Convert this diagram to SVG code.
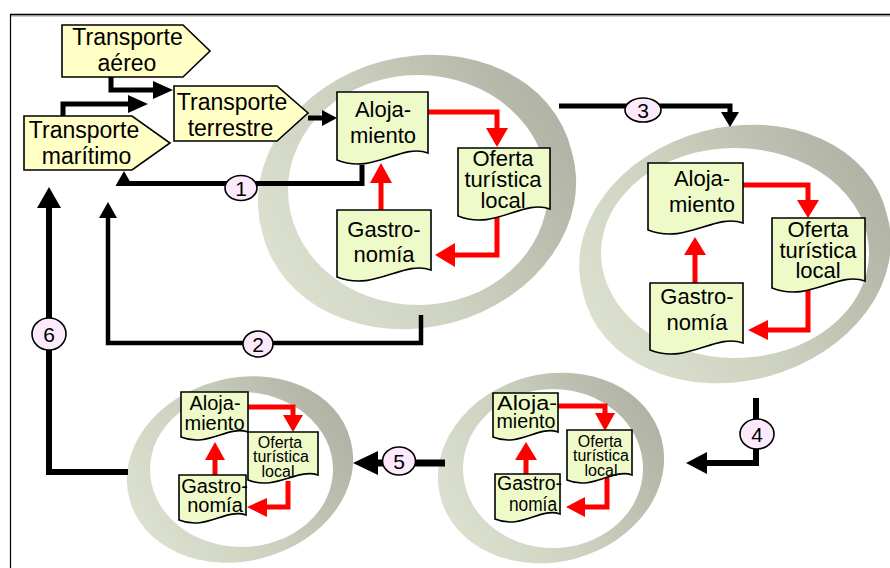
<svg xmlns="http://www.w3.org/2000/svg" width="890" height="568" viewBox="0 0 890 568">
<defs>
<linearGradient id="ringGrad" x1="0" y1="0.75" x2="1" y2="0.25">
<stop offset="0" stop-color="#DDE1D0"/>
<stop offset="0.45" stop-color="#CDD1BF"/>
<stop offset="1" stop-color="#AEB1A3"/>
</linearGradient>
<style>
.ring{fill:url(#ringGrad);fill-rule:evenodd;stroke:none}
.trans{fill:#FFFFC6;stroke:#000;stroke-width:1.6}
.doc{fill:#EEFBC9;stroke:#000;stroke-width:1.6}
.t{font-family:"Liberation Sans",Arial,sans-serif;fill:#000;text-anchor:middle}
.big{font-size:23px}
.mid{font-size:22px}
.sm{font-size:20px}
.xs{font-size:16px}
.bl{fill:none;stroke:#000;stroke-width:5;stroke-linejoin:miter}
.blh{fill:#000;stroke:none}
.rd{fill:none;stroke:#FF0000;stroke-width:5;stroke-linejoin:miter}
.rdh{fill:#FF0000;stroke:none}
.lab{fill:#FCE9FC;stroke:#000;stroke-width:1.6}
.num{font-family:"Liberation Sans",Arial,sans-serif;font-size:21px;fill:#000;text-anchor:middle}
</style>
</defs>
<rect x="0" y="0" width="890" height="568" fill="#FFFFFF"/>
<g id="frame">
<line x1="10" y1="16" x2="890" y2="16" stroke="#9A9A9A" stroke-width="1"/>
<line x1="10" y1="14.5" x2="890" y2="14.5" stroke="#000" stroke-width="1.5"/>
<line x1="10.5" y1="14" x2="10.5" y2="568" stroke="#000" stroke-width="1.2"/>
</g>
<g id="rings">
<path id="ring1" class="ring" d="M571.5,150.6 A160,132 -15 1 1 262.5,233.4 A160,132 -15 1 1 571.5,150.6 Z M548,190 A130,115 0 1 1 288,190 A130,115 0 1 1 548,190 Z"/>
<path id="ring2" class="ring" d="M886.6,213.4 A157,123.5 -15 1 1 583.4,294.6 A157,123.5 -15 1 1 886.6,213.4 Z M869,253 A134,105 0 1 1 601,253 A134,105 0 1 1 869,253 Z"/>
<path id="ring3" class="ring" d="M661.4,438.4 A114.3,93.5 -15 1 1 440.6,497.6 A114.3,93.5 -15 1 1 661.4,438.4 Z M643,468.5 A90,79.5 0 1 1 463,468.5 A90,79.5 0 1 1 643,468.5 Z"/>
<path id="ring4" class="ring" d="M350.5,439.9 A114.4,90.7 -15 1 1 129.5,499.1 A114.4,90.7 -15 1 1 350.5,439.9 Z M333,469.5 A91.5,77.5 0 1 1 150,469.5 A91.5,77.5 0 1 1 333,469.5 Z"/>
</g>
<g id="connectors">
<path class="bl" d="M111,77 V90 H154"/>
<polygon class="blh" points="153,81 173,90 153,99"/>
<path class="bl" d="M63,116 V104 H130"/>
<polygon class="blh" points="128,95 148,104 128,113"/>
<path class="bl" d="M308,118 H323"/>
<polygon class="blh" points="322,110 337,118 322,126"/>
<path class="bl" d="M362,165 V183.5 H124"/>
<polygon class="blh" points="115.5,186 132.5,186 124,171"/>
<path class="bl" style="stroke-width:4.5" d="M421,315 V343 H108 V217"/>
<polygon class="blh" points="99,218 117,218 108,202"/>
<path class="bl" d="M559,106 H730 V113"/>
<polygon class="blh" points="721,112 739,112 730,127"/>
<path class="bl" style="stroke-width:6" d="M756,398 V463 H707"/>
<polygon class="blh" points="707,452 707,474 686,463"/>
<path class="bl" style="stroke-width:7" d="M445,463 H377"/>
<polygon class="blh" points="378,451 378,475 353,463"/>
<path class="bl" style="stroke-width:6" d="M128,472 H49 V207"/>
<polygon class="blh" points="37,208 61,208 49,187"/>
<path class="rd" d="M428,112 H497 V128"/>
<polygon class="rdh" points="486,128 508,128 497,147"/>
<path class="rd" d="M497,215 V255 H455"/>
<polygon class="rdh" points="455,243 455,267 435,255"/>
<path class="rd" d="M381,212 V183"/>
<polygon class="rdh" points="370,183 392,183 381,163"/>
<path class="rd" d="M743,185 H808 V200"/>
<polygon class="rdh" points="797,200 819,200 808,218"/>
<path class="rd" d="M808,285 V330 H768"/>
<polygon class="rdh" points="768,320 768,340 748,330"/>
<path class="rd" d="M695,285 V255"/>
<polygon class="rdh" points="684,255 706,255 695,237"/>
<path class="rd" d="M558,406 H605 V413"/>
<polygon class="rdh" points="595,413 615,413 605,431"/>
<path class="rd" d="M607,478 V507 H585"/>
<polygon class="rdh" points="585,497 585,517 566,507"/>
<path class="rd" d="M526,476 V460"/>
<polygon class="rdh" points="515,460 537,460 526,442"/>
<path class="rd" d="M248,407 H293 V415"/>
<polygon class="rdh" points="283,415 303,415 293,432"/>
<path class="rd" d="M288,481 V507 H267"/>
<polygon class="rdh" points="267,498 267,517 247,507"/>
<path class="rd" d="M215,477 V460"/>
<polygon class="rdh" points="205,460 225,460 215,442"/>
<g id="labels">
<ellipse class="lab" cx="241" cy="188" rx="16" ry="12.5"/>
<text class="num" x="241" y="195.5">1</text>
<ellipse class="lab" cx="258" cy="344" rx="15" ry="13"/>
<text class="num" x="258" y="351.5">2</text>
<ellipse class="lab" cx="643" cy="110" rx="18" ry="12"/>
<text class="num" x="643" y="117.5">3</text>
<ellipse class="lab" cx="757" cy="434" rx="17" ry="15"/>
<text class="num" x="757" y="441.5">4</text>
<ellipse class="lab" cx="399" cy="461" rx="16.5" ry="14"/>
<text class="num" x="399" y="468.5">5</text>
<ellipse class="lab" cx="49" cy="334" rx="17" ry="16"/>
<text class="num" x="49" y="341.5">6</text>
</g>
</g>
<g id="transporte-aereo">
<path class="trans" d="M62,25 H183 L210,51 L183,77 H62 Z"/>
<text class="t big" x="127.5" y="45">Transporte</text>
<text class="t big" x="127" y="71">aéreo</text>
</g>
<g id="transporte-terrestre">
<path class="trans" d="M174,86 H277 L308,113 L277,141 H174 Z"/>
<text class="t big" x="232" y="110">Transporte</text>
<text class="t big" x="230.5" y="136">terrestre</text>
</g>
<g id="transporte-maritimo">
<path class="trans" d="M24,116 H132 L170,143 L132,170 H24 Z"/>
<text class="t big" x="84" y="138">Transporte</text>
<text class="t big" x="86.5" y="164">marítimo</text>
</g>
<g id="r1-alojamiento">
<path class="doc" d="M337,92 H428 V153 C400.7,143 373.4,175 337,160 Z"/>
<text class="t mid" x="383" y="117">Aloja-</text>
<text class="t mid" x="383" y="143">miento</text>
</g>
<g id="r1-oferta">
<path class="doc" d="M458,148 H550 V209 C522.4,199 494.8,231 458,216 Z"/>
<text class="t mid" x="503" y="166">Oferta</text>
<text class="t mid" x="503" y="187">turística</text>
<text class="t mid" x="503" y="208">local</text>
</g>
<g id="r1-gastronomia">
<path class="doc" d="M337,210 H431 V270 C402.8,260 374.6,292 337,277 Z"/>
<text class="t mid" x="384" y="237">Gastro-</text>
<text class="t mid" x="384" y="262">nomía</text>
</g>
<g id="r2-alojamiento">
<path class="doc" d="M648,163 H743 V223 C714.5,213 686,245 648,230 Z"/>
<text class="t mid" x="702" y="186">Aloja-</text>
<text class="t mid" x="702" y="212">miento</text>
</g>
<g id="r2-oferta">
<path class="doc" d="M772,218 H865 V281 C837.1,271 809.2,303 772,288 Z"/>
<text class="t mid" x="818" y="237">Oferta</text>
<text class="t mid" x="818" y="258">turística</text>
<text class="t mid" x="818" y="278">local</text>
</g>
<g id="r2-gastronomia">
<path class="doc" d="M650,283 H743 V343 C715.1,333 687.2,365 650,350 Z"/>
<text class="t mid" x="697" y="304">Gastro-</text>
<text class="t mid" x="697" y="330">nomía</text>
</g>
<g id="r3-alojamiento">
<path class="doc" d="M493,393 H558 V432 C538.5,425 519,448 493,437 Z"/>
<text class="t sm" x="527" y="410" textLength="60" lengthAdjust="spacingAndGlyphs">Aloja-</text>
<text class="t sm" x="526" y="428" textLength="59" lengthAdjust="spacingAndGlyphs">miento</text>
</g>
<g id="r3-oferta">
<path class="doc" d="M567,430 H632 V475 C612.5,468 593,491 567,480 Z"/>
<text class="t xs" x="600" y="447">Oferta</text>
<text class="t xs" x="601" y="461">turística</text>
<text class="t xs" x="601" y="476">local</text>
</g>
<g id="r3-gastronomia">
<path class="doc" d="M495,474 H560 V514 C540.5,507 521,530 495,519 Z"/>
<text class="t sm" x="529.5" y="490" textLength="65" lengthAdjust="spacingAndGlyphs">Gastro-</text>
<text class="t sm" x="533" y="511" textLength="48" lengthAdjust="spacingAndGlyphs">nomía</text>
</g>
<g id="r4-alojamiento">
<path class="doc" d="M181,392 H248 V432 C227.9,425 207.8,448 181,437 Z"/>
<text class="t sm" x="215" y="410">Aloja-</text>
<text class="t sm" x="214.5" y="430">miento</text>
</g>
<g id="r4-oferta">
<path class="doc" d="M248,432 H318 V475 C297,468 276,491 248,480 Z"/>
<text class="t xs" x="280" y="448">Oferta</text>
<text class="t xs" x="281" y="462">turística</text>
<text class="t xs" x="278" y="477">local</text>
</g>
<g id="r4-gastronomia">
<path class="doc" d="M179,475 H246 V515 C225.9,508 205.8,531 179,520 Z"/>
<text class="t sm" x="214.5" y="493">Gastro-</text>
<text class="t sm" x="215" y="512">nomía</text>
</g>
</svg>
